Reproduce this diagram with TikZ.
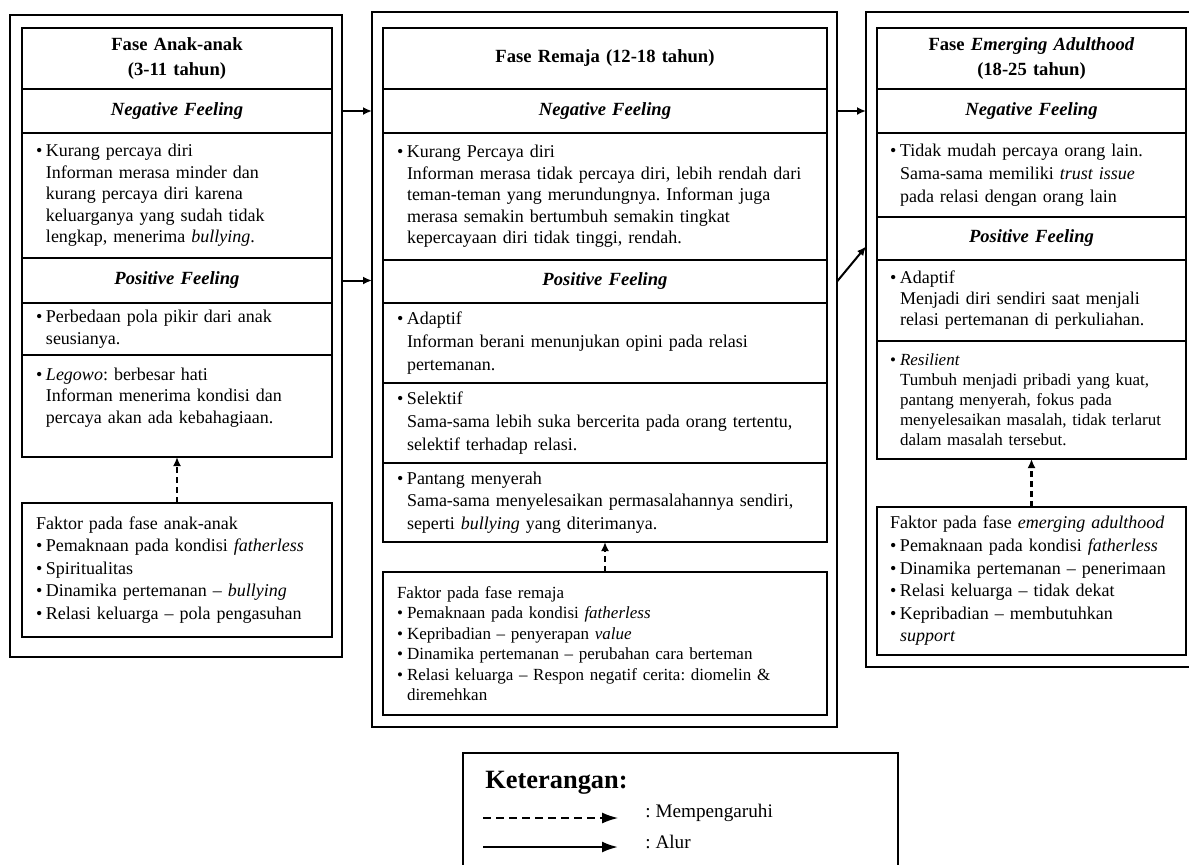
\documentclass[tikz,border=0pt]{standalone}
\usepackage{fontspec}
\setmainfont{Liberation Serif}
\usetikzlibrary{positioning}
\usetikzlibrary{arrows.meta}

\newcommand\bt{\makebox[5pt][l]{\textbullet}}
\newcommand\ind{\hspace*{5pt}}

\begin{document}
\frenchspacing
\begin{tikzpicture}[x=0.5pt,y=-0.5pt,
  cell/.style={draw,line width=1.1pt,outer sep=0pt,inner ysep=0pt,align=left,
    font=\fontsize{9}{10.75}\selectfont},
  title/.style={cell,align=center,minimum height=30.5pt,
    font=\fontsize{9.3}{12.5}\selectfont\bfseries},
  head/.style={cell,align=center,minimum height=22pt,
    font=\fontsize{9.3}{11}\selectfont\bfseries\itshape},
  anak/.style={inner xsep=7pt,text width=141pt},
  remaja/.style={inner xsep=7pt,text width=208pt},
  emerging/.style={inner xsep=6.5pt,text width=141.5pt},
  frame/.style={draw,line width=1.3pt,outer sep=0pt,anchor=north west,inner sep=0pt},
  flow/.style={-{Latex[length=4.5pt,width=4pt]},line width=1pt},
  influence/.style={-{Latex[length=4.5pt,width=4pt]},line width=1.3pt,dash pattern=on 3pt off 2pt},
  legendtext/.style={anchor=west,inner sep=0pt,font=\fontsize{9.6}{11}\selectfont}]
  \useasboundingbox (0,0) rectangle (1189,864);

  % outer frames
  \node[frame,minimum width=166pt,minimum height=321pt] (anakOut) at (10,15) {};
  \node[frame,minimum width=232.5pt,minimum height=357.5pt] (remajaOut) at (372,12) {};
  \node[frame,minimum width=165.5pt,minimum height=327.5pt] (emergingOut) at (866,12) {};

  % fase anak-anak
  \node[title,anak,anchor=north west] (anakTitle) at (22,28) {Fase Anak-anak\\(3-11 tahun)};
  \node[head,anak,below=0pt of anakTitle] (anakNegHead) {Negative Feeling};
  \node[cell,anak,minimum height=62.5pt,below=0pt of anakNegHead] (anakNeg)
    {\bt Kurang percaya diri\\
     \ind Informan merasa minder dan\\
     \ind kurang percaya diri karena\\
     \ind keluarganya yang sudah tidak\\
     \ind lengkap, menerima \textit{bullying}.};
  \node[head,anak,minimum height=22.5pt,below=0pt of anakNeg] (anakPosHead) {Positive Feeling};
  \node[cell,anak,minimum height=26pt,below=0pt of anakPosHead] (anakPos1)
    {\bt Perbedaan pola pikir dari anak\\
     \ind seusianya.};
  \node[cell,anak,minimum height=51pt,below=0pt of anakPos1] (anakPos2)
    {\bt \textit{Legowo}: berbesar hati\\
     \ind Informan menerima kondisi dan\\
     \ind percaya akan ada kebahagiaan.\\ \mbox{}};
  \node[cell,anak,minimum height=67pt,below=23pt of anakPos2,
    font=\fontsize{9}{11.25}\selectfont] (anakFaktor)
    {Faktor pada fase anak-anak\\
     \bt Pemaknaan pada kondisi \textit{fatherless}\\
     \bt Spiritualitas\\
     \bt Dinamika pertemanan -- \textit{bullying}\\
     \bt Relasi keluarga -- pola pengasuhan};

  % fase remaja
  \node[title,remaja,anchor=north west] (remajaTitle) at (383,28) {Fase Remaja (12-18 tahun)};
  \node[head,remaja,below=0pt of remajaTitle] (remajaNegHead) {Negative Feeling};
  \node[cell,remaja,minimum height=63.5pt,below=0pt of remajaNegHead] (remajaNeg)
    {\bt Kurang Percaya diri\\
     \ind \mbox{Informan merasa tidak percaya diri, lebih rendah dari}\\
     \ind teman-teman yang merundungnya. Informan juga\\
     \ind merasa semakin bertumbuh semakin tingkat\\
     \ind kepercayaan diri tidak tinggi, rendah.};
  \node[head,remaja,minimum height=21.5pt,below=0pt of remajaNeg] (remajaPosHead) {Positive Feeling};
  \node[cell,remaja,minimum height=40pt,below=0pt of remajaPosHead,
    font=\fontsize{9}{11.4}\selectfont] (remajaPos1)
    {\bt Adaptif\\
     \ind Informan berani menunjukan opini pada relasi\\
     \ind pertemanan.};
  \node[cell,remaja,minimum height=40pt,below=0pt of remajaPos1,
    font=\fontsize{9}{11.4}\selectfont] (remajaPos2)
    {\bt Selektif\\
     \ind \mbox{Sama-sama lebih suka bercerita pada orang tertentu,}\\
     \ind selektif terhadap relasi.};
  \node[cell,remaja,minimum height=39.5pt,below=0pt of remajaPos2,
    font=\fontsize{9}{11.4}\selectfont] (remajaPos3)
    {\bt Pantang menyerah\\
     \ind \mbox{Sama-sama menyelesaikan permasalahannya sendiri,}\\
     \ind seperti \textit{bullying} yang diterimanya.};
  \node[cell,remaja,minimum height=71.5pt,below=15pt of remajaPos3,
    font=\fontsize{8.5}{10.25}\selectfont] (remajaFaktor)
    {Faktor pada fase remaja\\
     \bt Pemaknaan pada kondisi \textit{fatherless}\\
     \bt Kepribadian -- penyerapan \textit{value}\\
     \bt Dinamika pertemanan -- perubahan cara berteman\\
     \bt Relasi keluarga -- Respon negatif cerita: diomelin \&\\
     \ind diremehkan};

  % fase emerging adulthood
  \node[title,emerging,anchor=north west] (emergingTitle) at (877,28)
    {Fase \textit{Emerging Adulthood}\\(18-25 tahun)};
  \node[head,emerging,below=0pt of emergingTitle] (emergingNegHead) {Negative Feeling};
  \node[cell,emerging,minimum height=42pt,below=0pt of emergingNegHead,
    font=\fontsize{9}{11.5}\selectfont] (emergingNeg)
    {\bt Tidak mudah percaya orang lain.\\
     \ind Sama-sama memiliki \textit{trust issue}\\
     \ind pada relasi dengan orang lain};
  \node[head,emerging,minimum height=21.5pt,below=0pt of emergingNeg] (emergingPosHead) {Positive Feeling};
  \node[cell,emerging,minimum height=40.5pt,below=0pt of emergingPosHead,
    font=\fontsize{9}{10.5}\selectfont] (emergingPos1)
    {\bt Adaptif\\
     \ind Menjadi diri sendiri saat menjali\\
     \ind \mbox{relasi pertemanan di perkuliahan.}};
  \node[cell,emerging,minimum height=59pt,below=0pt of emergingPos1,
    font=\fontsize{8.5}{10}\selectfont] (emergingPos2)
    {\bt \textit{Resilient}\\
     \ind Tumbuh menjadi pribadi yang kuat,\\
     \ind pantang menyerah, fokus pada\\
     \ind \mbox{menyelesaikan masalah, tidak terlarut}\\
     \ind dalam masalah tersebut.};
  \node[cell,emerging,minimum height=74pt,below=24pt of emergingPos2,
    font=\fontsize{9}{11.3}\selectfont] (emergingFaktor)
    {\mbox{Faktor pada fase \textit{emerging adulthood}}\\
     \bt \mbox{Pemaknaan pada kondisi \textit{fatherless}}\\
     \bt \mbox{Dinamika pertemanan -- penerimaan}\\
     \bt Relasi keluarga -- tidak dekat\\
     \bt Kepribadian -- membutuhkan\\
     \ind \textit{support}};

  % alur
  \draw[flow] (anakNegHead.east -| anakOut.east) -- (anakNegHead.east -| remajaOut.west);
  \draw[flow] (anakPosHead.east -| anakOut.east) -- (anakPosHead.east -| remajaOut.west);
  \draw[flow] (remajaNegHead.east -| remajaOut.east) -- (remajaNegHead.east -| emergingOut.west);
  \draw[flow] (remajaPosHead.east -| remajaOut.east) -- ([yshift=-4pt]emergingPosHead.west -| emergingOut.west);

  % mempengaruhi
  \draw[influence] (anakFaktor.north) -- (anakPos2.south);
  \draw[influence] (remajaFaktor.north) -- (remajaPos3.south);
  \draw[influence] (emergingFaktor.north) -- (emergingPos2.south);

  % keterangan
  \node[frame,minimum width=217.5pt,minimum height=65pt] (legendBox) at (463,753) {};
  \node[anchor=west,inner sep=0pt,font=\fontsize{13.2}{15}\selectfont\bfseries] (legendTitle) at (485,783) {Keterangan:};
  \coordinate (dashStart) at (483,818);
  \coordinate (dashEnd) at (618,818);
  \coordinate (lineStart) at (483,847);
  \coordinate (lineEnd) at (618,847);
  \draw[-{Latex[length=8pt,width=5.5pt]},line width=0.7pt,dash pattern=on 4pt off 2.5pt] (dashStart) -- (dashEnd);
  \draw[-{Latex[length=8pt,width=5.5pt]},line width=1.1pt] (lineStart) -- (lineEnd);
  \node[legendtext] (legendDash) at (645,813) {: Mempengaruhi};
  \node[legendtext] (legendLine) at (645,842) {: Alur};
\end{tikzpicture}
\end{document}
